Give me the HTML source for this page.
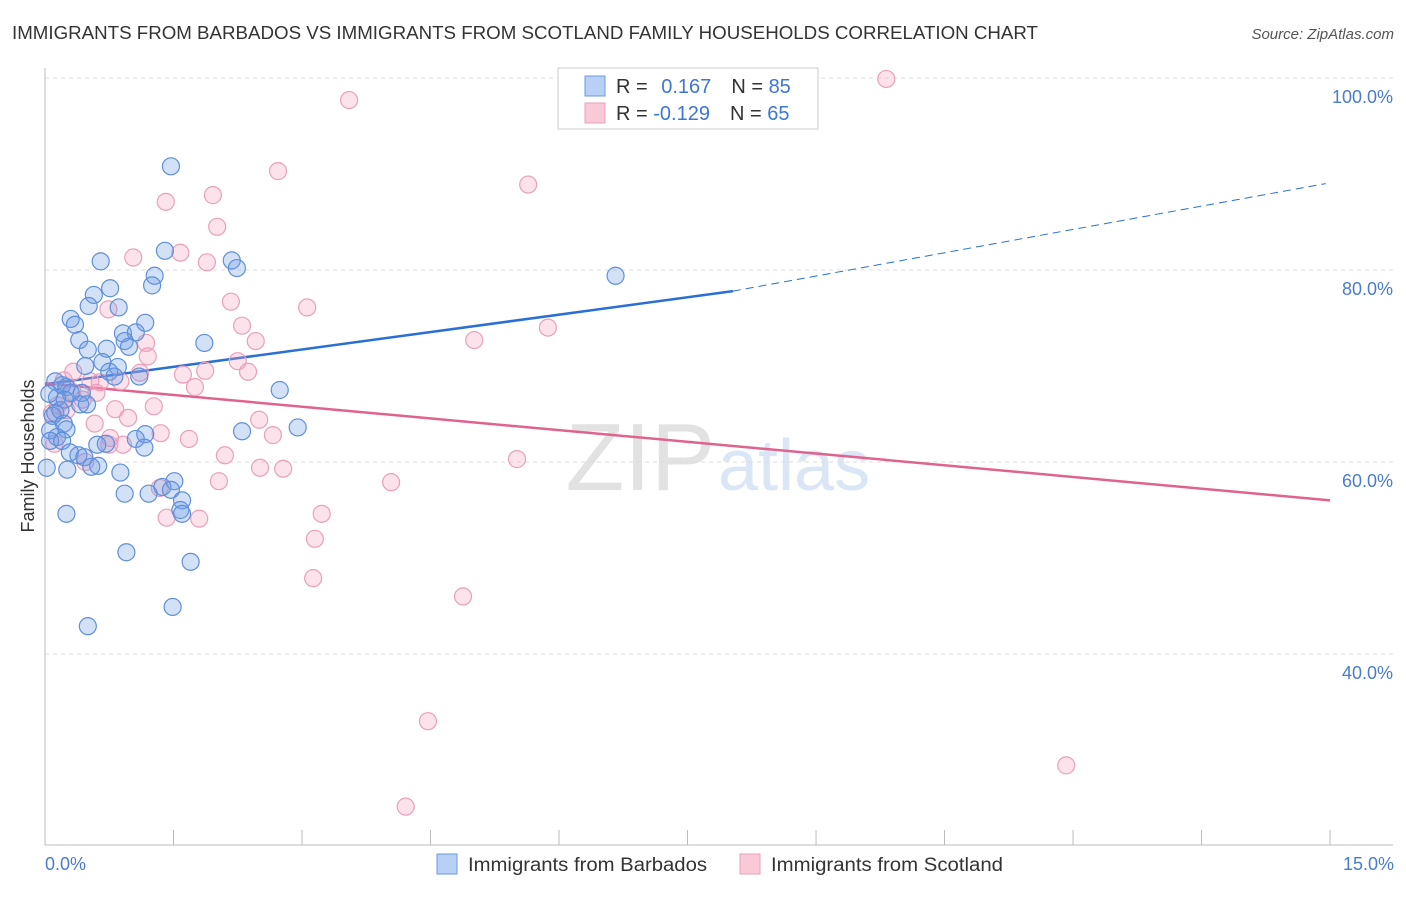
<!DOCTYPE html>
<html><head><meta charset="utf-8"><style>
body{margin:0;background:#fff;font-family:"Liberation Sans",sans-serif;}
svg text{font-family:"Liberation Sans",sans-serif;}
</style></head><body>
<svg id="chart" width="1406" height="892">
<text x="12" y="39" font-size="18" fill="#333" textLength="1026" lengthAdjust="spacingAndGlyphs">IMMIGRANTS FROM BARBADOS VS IMMIGRANTS FROM SCOTLAND FAMILY HOUSEHOLDS CORRELATION CHART</text>
<text x="1394" y="39" font-size="15" fill="#555" font-style="italic" text-anchor="end">Source: ZipAtlas.com</text>
<text x="715" y="490" font-size="96" fill="#e2e2e2" text-anchor="end" font-family="Liberation Serif">ZIP</text>
<text x="718" y="490" font-size="72" fill="#dae6f6">atlas</text>
<text transform="translate(34,456) rotate(-90)" font-size="18" fill="#333" text-anchor="middle">Family Households</text>
<g id="grid"></g><g id="trends"></g><g id="pts"></g>
<text x="45" y="870" font-size="18" fill="#4a7bd0">0.0%</text>
<text x="1394" y="870" font-size="18" fill="#4a7bd0" text-anchor="end">15.0%</text>
<g>
<rect x="558" y="68" width="260" height="61" fill="#fff" stroke="#ccc"/>
<rect x="585" y="76" width="20" height="20" fill="#b8d0f5" stroke="#6a9ae0"/>
<rect x="585" y="103" width="20" height="20" fill="#f9c9d8" stroke="#eaa0bb"/>
<text x="616" y="93" font-size="20" fill="#333">R = <tspan fill="#3d76d4" dx="8">0.167</tspan><tspan dx="20">N = </tspan><tspan fill="#3d76d4">85</tspan></text>
<text x="616" y="120" font-size="20" fill="#333">R = <tspan fill="#3d76d4">-0.129</tspan><tspan dx="20">N = </tspan><tspan fill="#3d76d4">65</tspan></text>
</g>
<g>
<rect x="437" y="854" width="20" height="20" fill="#b8d0f5" stroke="#6a9ae0"/>
<text x="468" y="871" font-size="19" fill="#333" textLength="239" lengthAdjust="spacingAndGlyphs">Immigrants from Barbados</text>
<rect x="740" y="854" width="20" height="20" fill="#f9c9d8" stroke="#eaa0bb"/>
<text x="771" y="871" font-size="19" fill="#333" textLength="232" lengthAdjust="spacingAndGlyphs">Immigrants from Scotland</text>
</g>
</svg>
<script>
const yTicks=[100,80,60,40];
const yTickLabels=["100.0%","80.0%","60.0%","40.0%"];
const xTicks=[0,1.5,3,4.5,6,7.5,9,10.5,12,13.5,15];
const blueX=[1.47,1.40,0.65,2.18,2.24,1.28,1.25,0.76,0.57,0.51,0.86,0.30,0.35,1.17,0.91,1.06,0.40,0.93,0.98,1.86,0.50,0.72,0.67,0.47,0.85,0.75,0.81,1.10,0.12,0.25,0.20,0.30,0.43,0.14,0.41,0.49,2.74,0.12,0.09,0.22,0.25,0.06,0.14,0.06,0.20,2.30,2.95,1.17,1.06,1.16,0.61,0.71,0.39,0.29,0.46,0.62,0.54,0.26,0.02,0.88,1.51,1.37,1.47,1.60,0.93,1.21,1.58,1.60,0.25,0.95,1.70,1.49,0.50,6.66,0.18,0.05,0.23];
const blueY=[90.8,82.0,80.9,81.0,80.2,79.4,78.4,78.1,77.4,76.25,76.1,74.9,74.3,74.5,73.4,73.5,72.7,72.6,72.0,72.4,71.7,71.8,70.4,70.0,69.9,69.4,68.9,68.9,68.4,67.8,68.0,67.2,67.2,66.7,66.0,66.0,67.5,65.1,64.8,64.0,63.4,63.3,62.6,62.2,62.2,63.2,63.6,62.9,62.4,61.5,61.8,61.9,60.7,61.0,60.5,59.6,59.5,59.2,59.4,58.9,58.0,57.4,57.1,56.0,56.7,56.7,55.0,54.6,54.6,50.6,49.6,44.9,42.9,79.4,65.4,67.1,66.5];
const pinkX=[9.82,3.55,2.72,5.64,1.96,1.41,2.01,1.58,1.03,1.89,2.17,3.06,0.74,2.30,2.46,5.01,5.87,1.18,1.20,2.25,2.37,1.61,1.87,1.75,1.11,0.88,0.53,0.33,0.22,0.60,0.32,0.15,0.25,0.82,1.27,0.08,2.50,0.58,0.97,1.68,1.35,2.66,0.91,0.75,0.11,2.10,5.51,0.47,2.51,2.78,2.03,4.04,1.34,1.42,1.80,3.23,3.15,3.13,4.88,4.47,4.21,11.92,0.76,0.44,0.64];
const pinkY=[99.9,97.7,90.3,88.9,87.8,87.1,84.5,81.8,81.3,80.8,76.7,76.1,75.9,74.2,72.6,72.7,74.0,72.4,71.0,70.5,69.4,69.1,69.5,67.8,69.3,68.4,68.4,69.4,68.5,67.2,67.3,65.9,65.4,65.5,65.8,65.1,64.4,64.0,64.6,62.4,63.0,62.8,61.8,61.8,61.9,60.7,60.3,60.0,59.4,59.3,58.0,57.9,57.3,54.2,54.1,54.6,52.0,47.9,46.0,33.0,24.1,28.4,62.5,66.5,68.3];
const blueTrend=[68.1,77.8,89.0]; const blueTrendX=[0,8.03,14.95];
const pinkTrend=[68.2,56.0]; const pinkTrendX=[0,15];
const NS="http://www.w3.org/2000/svg";
const xs=v=>45+v*85.67, ys=v=>78+(100-v)*9.6;
function mk(tag,attrs,parent){const e=document.createElementNS(NS,tag);for(const k in attrs)e.setAttribute(k,attrs[k]);parent.appendChild(e);return e;}
const grid=document.getElementById('grid');
yTicks.forEach((t,i)=>{
 const l=mk('line',{x1:45,x2:1393,y1:ys(t),y2:ys(t),stroke:'#ddd','stroke-dasharray':'4,4'},grid);
 
 
 const tx=mk('text',{x:1393,y:ys(t)+25,'font-size':18,fill:'#4a7bd0','text-anchor':'end'},grid);
 tx.textContent=yTickLabels[i];
 
 
});
const ax=mk('line',{x1:45,x2:1393,y1:845,y2:845,stroke:'#bbb'},grid);


const ay=mk('line',{x1:45,x2:45,y1:68,y2:845,stroke:'#bbb'},grid);


xTicks.forEach(t=>{
 const l=mk('line',{x1:xs(t),x2:xs(t),y1:830,y2:845,stroke:'#bbb'},grid);
 
 
});
const tr=document.getElementById('trends');
let b1=mk('line',{x1:xs(blueTrendX[0]),y1:ys(blueTrend[0]),x2:xs(blueTrendX[1]),y2:ys(blueTrend[1]),stroke:'#2a6fd6','stroke-width':2.5},tr);


let b2=mk('line',{x1:xs(blueTrendX[1]),y1:ys(blueTrend[1]),x2:xs(blueTrendX[2]),y2:ys(blueTrend[2]),stroke:'#2a6fd6','stroke-width':1,'stroke-dasharray':'8,5'},tr);


let p1=mk('line',{x1:xs(pinkTrendX[0]),y1:ys(pinkTrend[0]),x2:xs(pinkTrendX[1]),y2:ys(pinkTrend[1]),stroke:'#e0638f','stroke-width':2.5},tr);


const pts=document.getElementById('pts');
pinkX.forEach((x,i)=>{
 const c=mk('circle',{cx:xs(x),cy:ys(pinkY[i]),r:8.5,fill:'rgba(243,160,190,0.3)',stroke:'#eaa0bb','stroke-width':1.2},pts);
 
 
});
blueX.forEach((x,i)=>{
 const c=mk('circle',{cx:xs(x),cy:ys(blueY[i]),r:8.5,fill:'rgba(110,155,230,0.3)',stroke:'#5f8fdc','stroke-width':1.2},pts);
 
 
});
</script>
</body></html>
